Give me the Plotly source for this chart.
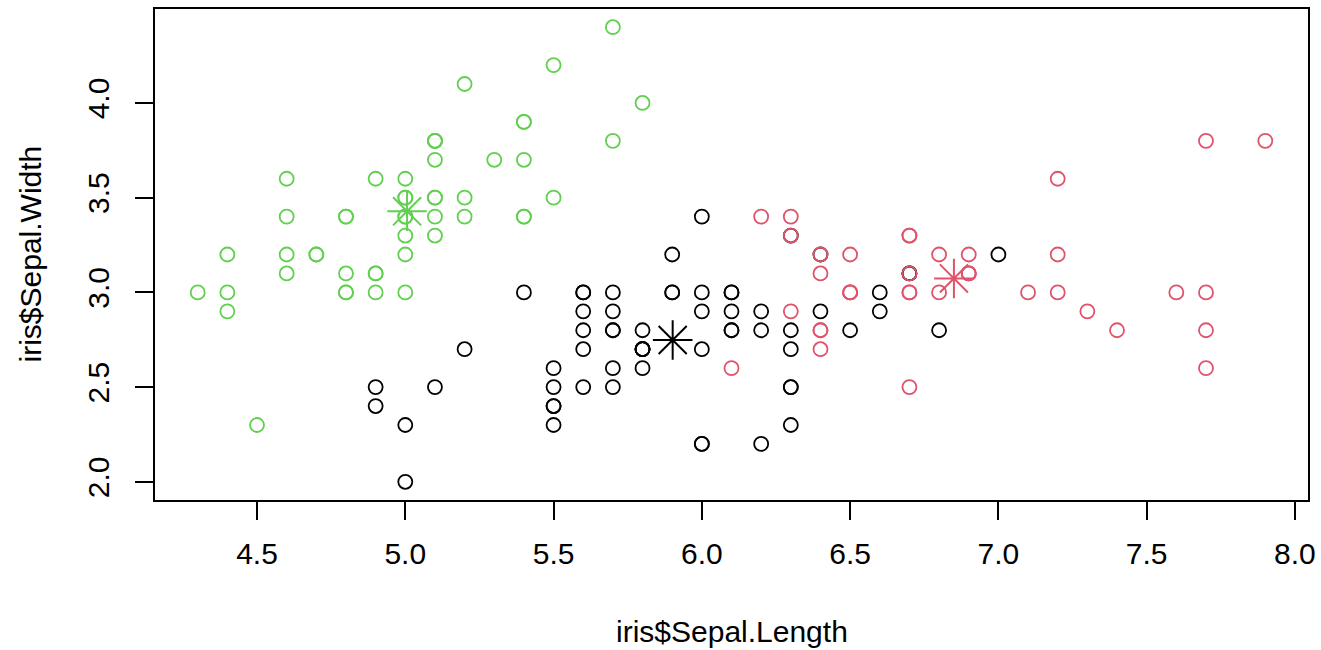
import numpy as np
import plotly.graph_objects as go

# iris: Sepal.Length / Sepal.Width (150 filas, en orden)
sepal_length = [
    5.1, 4.9, 4.7, 4.6, 5.0, 5.4, 4.6, 5.0, 4.4, 4.9,
    5.4, 4.8, 4.8, 4.3, 5.8, 5.7, 5.4, 5.1, 5.7, 5.1,
    5.4, 5.1, 4.6, 5.1, 4.8, 5.0, 5.0, 5.2, 5.2, 4.7,
    4.8, 5.4, 5.2, 5.5, 4.9, 5.0, 5.5, 4.9, 4.4, 5.1,
    5.0, 4.5, 4.4, 5.0, 5.1, 4.8, 5.1, 4.6, 5.3, 5.0,
    7.0, 6.4, 6.9, 5.5, 6.5, 5.7, 6.3, 4.9, 6.6, 5.2,
    5.0, 5.9, 6.0, 6.1, 5.6, 6.7, 5.6, 5.8, 6.2, 5.6,
    5.9, 6.1, 6.3, 6.1, 6.4, 6.6, 6.8, 6.7, 6.0, 5.7,
    5.5, 5.5, 5.8, 6.0, 5.4, 6.0, 6.7, 6.3, 5.6, 5.5,
    5.5, 6.1, 5.8, 5.0, 5.6, 5.7, 5.7, 6.2, 5.1, 5.7,
    6.3, 5.8, 7.1, 6.3, 6.5, 7.6, 4.9, 7.3, 6.7, 7.2,
    6.5, 6.4, 6.8, 5.7, 5.8, 6.4, 6.5, 7.7, 7.7, 6.0,
    6.9, 5.6, 7.7, 6.3, 6.7, 7.2, 6.2, 6.1, 6.4, 7.2,
    7.4, 7.9, 6.4, 6.3, 6.1, 7.7, 6.3, 6.4, 6.0, 6.9,
    6.7, 6.9, 5.8, 6.8, 6.7, 6.7, 6.3, 6.5, 6.2, 5.9,
]
sepal_width = [
    3.5, 3.0, 3.2, 3.1, 3.6, 3.9, 3.4, 3.4, 2.9, 3.1,
    3.7, 3.4, 3.0, 3.0, 4.0, 4.4, 3.9, 3.5, 3.8, 3.8,
    3.4, 3.7, 3.6, 3.3, 3.4, 3.0, 3.4, 3.5, 3.4, 3.2,
    3.1, 3.4, 4.1, 4.2, 3.1, 3.2, 3.5, 3.6, 3.0, 3.4,
    3.5, 2.3, 3.2, 3.5, 3.8, 3.0, 3.8, 3.2, 3.7, 3.3,
    3.2, 3.2, 3.1, 2.3, 2.8, 2.8, 3.3, 2.4, 2.9, 2.7,
    2.0, 3.0, 2.2, 2.9, 2.9, 3.1, 3.0, 2.7, 2.2, 2.5,
    3.2, 2.8, 2.5, 2.8, 2.9, 3.0, 2.8, 3.0, 2.9, 2.6,
    2.4, 2.4, 2.7, 2.7, 3.0, 3.4, 3.1, 2.3, 3.0, 2.5,
    2.6, 3.0, 2.6, 2.3, 2.7, 3.0, 2.9, 2.9, 2.5, 2.8,
    3.3, 2.7, 3.0, 2.9, 3.0, 3.0, 2.5, 2.9, 2.5, 3.6,
    3.2, 2.7, 3.0, 2.5, 2.8, 3.2, 3.0, 3.8, 2.6, 2.2,
    3.2, 2.8, 2.8, 2.7, 3.3, 3.2, 2.8, 3.0, 2.8, 3.0,
    2.8, 3.8, 2.8, 2.8, 2.6, 3.0, 3.4, 3.1, 3.0, 3.1,
    3.1, 3.1, 2.7, 3.2, 3.3, 3.0, 2.5, 3.0, 3.4, 3.0,
]
# cluster de kmeans(iris[,1:4], 3)
cluster = [
    3, 3, 3, 3, 3, 3, 3, 3, 3, 3,
    3, 3, 3, 3, 3, 3, 3, 3, 3, 3,
    3, 3, 3, 3, 3, 3, 3, 3, 3, 3,
    3, 3, 3, 3, 3, 3, 3, 3, 3, 3,
    3, 3, 3, 3, 3, 3, 3, 3, 3, 3,
    1, 1, 2, 1, 1, 1, 1, 1, 1, 1,
    1, 1, 1, 1, 1, 1, 1, 1, 1, 1,
    1, 1, 1, 1, 1, 1, 1, 2, 1, 1,
    1, 1, 1, 1, 1, 1, 1, 1, 1, 1,
    1, 1, 1, 1, 1, 1, 1, 1, 1, 1,
    2, 1, 2, 2, 2, 2, 1, 2, 2, 2,
    2, 2, 2, 1, 1, 2, 2, 2, 2, 1,
    2, 1, 2, 1, 2, 2, 1, 1, 2, 2,
    2, 2, 2, 1, 2, 2, 2, 2, 1, 2,
    2, 2, 1, 2, 2, 2, 1, 2, 2, 1,
]
x_ticks = [4.5, 5.0, 5.5, 6.0, 6.5, 7.0, 7.5, 8.0]
y_ticks = [2.0, 2.5, 3.0, 3.5, 4.0]

palette = {1: "black", 2: "#DF536B", 3: "#61D04F"}

x = np.array(sepal_length)
y = np.array(sepal_width)
cl = np.array(cluster)

fig = go.Figure()
fig.add_trace(go.Scatter(
    x=x, y=y, mode="markers",
    marker=dict(symbol="circle-open", size=14, color=[palette[c] for c in cluster],
                line=dict(width=1.8)),
    hoverinfo="x+y", showlegend=False))

# centros (media de cada cluster)
for k in (1, 2, 3):
    fig.add_trace(go.Scatter(
        x=[x[cl == k].mean()], y=[y[cl == k].mean()], mode="markers",
        marker=dict(symbol="asterisk-open", size=33, color=palette[k],
                    line=dict(width=2, color=palette[k])),
        showlegend=False))

font = dict(family="Liberation Sans, Arial, sans-serif", size=30, color="black")
axis = dict(showgrid=False, zeroline=False, showline=True, mirror=True,
            linecolor="black", linewidth=2, ticks="outside", ticklen=18,
            tickwidth=2, tickcolor="black", tickfont=font, tickformat=".1f",
            automargin=False)

fig.update_layout(
    width=1321, height=650, plot_bgcolor="white", paper_bgcolor="white",
    margin=dict(l=155, r=13, t=9, b=150), font=font,
    xaxis=dict(axis, range=[4.156, 8.044], tickvals=x_ticks, ticklabelstandoff=8),
    yaxis=dict(axis, range=[1.904, 4.496], tickvals=y_ticks, tickangle=-90,
               ticklabelstandoff=14),
)

# titulos de los ejes como anotaciones
fig.add_annotation(text="iris$Sepal.Length", xref="paper", yref="paper",
                   x=0.5, y=0, yanchor="middle", yshift=-131, showarrow=False,
                   font=font)
fig.add_annotation(text="iris$Sepal.Width", xref="paper", yref="paper",
                   x=0, y=0.5, xanchor="center", xshift=-125, textangle=-90,
                   showarrow=False, font=font)

# quita el margen de 8px del body para que la figura llene la ventana
fig.write_html("out.html", config={"displayModeBar": False},
               post_script="document.body.style.margin='0';"
                           "document.body.style.overflow='hidden';")
